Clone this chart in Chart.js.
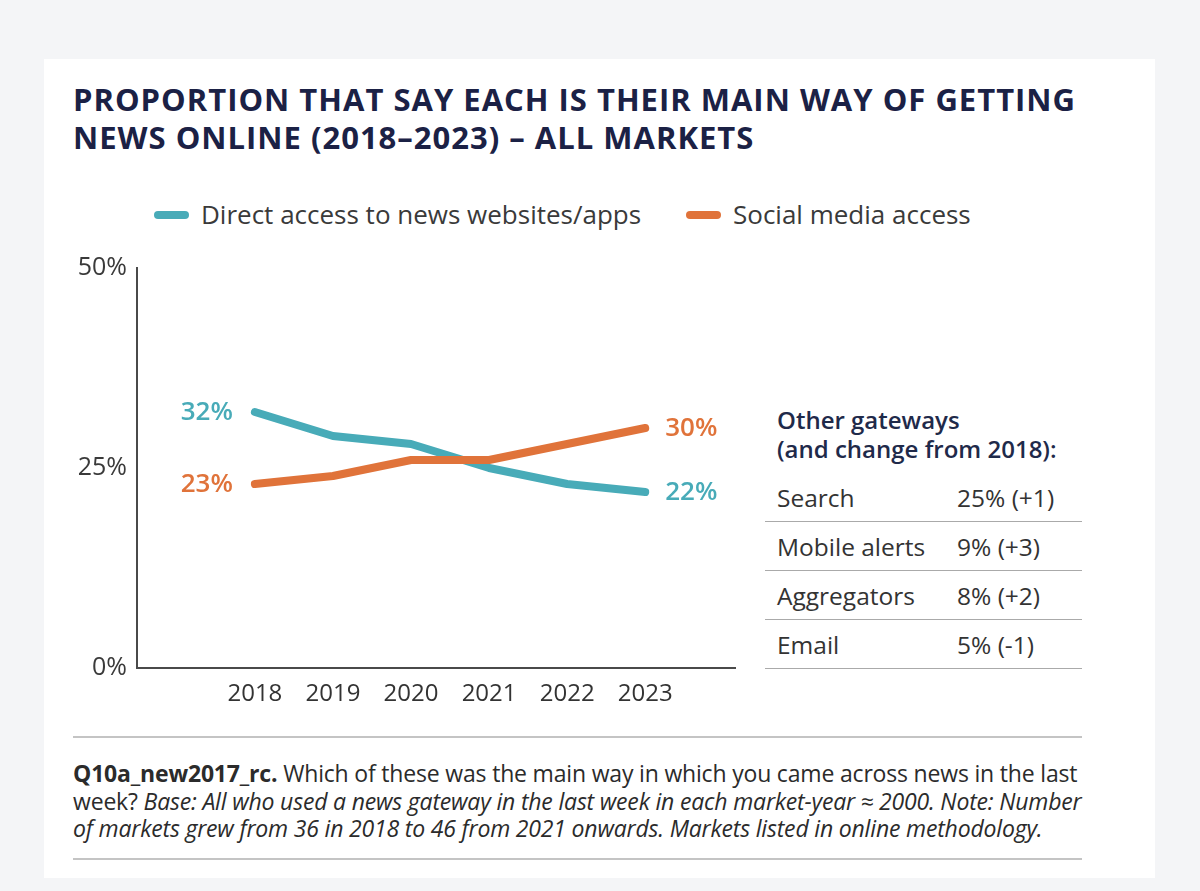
<!DOCTYPE html>
<html>
<head>
<meta charset="utf-8">
<script src="https://cdn.jsdelivr.net/npm/chart.js@4.4.0/dist/chart.umd.min.js"></script>
<style>
  html, body { margin: 0; padding: 0; }
  body { width: 1200px; height: 891px; background: #f4f5f7; position: relative; overflow: hidden; font-family: "Open Sans", "Noto Sans", sans-serif; }
  #card { position: absolute; left: 44px; top: 59px; width: 1111px; height: 819px; background: #fff; }
  #title { position: absolute; left: 73px; top: 80px; margin: 0; font-size: 31px; line-height: 38px; font-weight: 700; color: #1b2145; white-space: nowrap; letter-spacing: 1px; }
  #legend { position: absolute; top: 196px; left: 154px; font-size: 26px; color: #3a3a3a; white-space: nowrap; }
  #legend span.item { position: absolute; top: 0; white-space: nowrap; }
  #legend i { display: inline-block; width: 35px; height: 8px; border-radius: 4px; vertical-align: middle; margin-right: 12px; position: relative; top: -2px; }
  #wrap { position: absolute; left: 60px; top: 251px; width: 700px; height: 464px; }
  #side { position: absolute; left: 765px; top: 405px; width: 317px; }
  #side h3 { margin: 0 0 0 12px; font-size: 24px; line-height: 29px; font-weight: 600; color: #1f2a4a; white-space: nowrap; }
  #side table { border-collapse: collapse; width: 317px; margin-top: 10px; font-size: 24.5px; color: #333; }
  #side td { height: 48px; border-bottom: 1.5px solid #aaa; padding: 0 0 0 12px; white-space: nowrap; }
  #side td.n { width: 168px; }
  #foot { position: absolute; left: 73px; top: 736px; width: 1009px; border-top: 2px solid #c4c4c4; border-bottom: 2px solid #c4c4c4; padding: 22px 0 15px 0; font-size: 23px; line-height: 27.5px; color: #2b2b2b; white-space: nowrap; letter-spacing: -0.18px; }
</style>
</head>
<body>
<div id="card"></div>
<h1 id="title">PROPORTION THAT SAY EACH IS THEIR MAIN WAY OF GETTING<br>NEWS ONLINE (2018–2023) – ALL MARKETS</h1>
<div id="legend"></div>
<div id="wrap"><canvas id="lineChart"></canvas></div>
<div id="side">
  <h3>Other gateways<br>(and change from 2018):</h3>
  <table id="others"></table>
</div>
<div id="foot"><b>Q10a_new2017_rc.</b> Which of these was the main way in which you came across news in the last<br>week? <i>Base: All who used a news gateway in the last week in each market-year ≈ 2000. Note: Number<br>of markets grew from 36 in 2018 to 46 from 2021 onwards. Markets listed in online methodology.</i></div>
<script>
const years = [2018, 2019, 2020, 2021, 2022, 2023];
const directAccess = [32, 29, 28, 25, 23, 22];
const socialMedia = [23, 24, 26, 26, 28, 30];
const seriesNames = ["Direct access to news websites/apps", "Social media access"];
const seriesColors = ["#48abb8", "#e0733a"];
const yTicks = [0, 25, 50];
const otherNames = ["Search", "Mobile alerts", "Aggregators", "Email"];
const otherShares = [25, 9, 8, 5];
const otherChanges = ["+1", "+3", "+2", "-1"];

// legend
let legend = document.getElementById("legend");
let legendX = [0, 532];
seriesNames.forEach((name, i) => {
  let s = document.createElement("span");
  s.className = "item";
  s.style.left = legendX[i] + "px";
  s.innerHTML = `<i style="background:${seriesColors[i]}"></i>${name}`;
  legend.appendChild(s);
});

// side table
let tbl = document.getElementById("others");
for (let i = 0; i < otherNames.length; i++) {
  let tr = document.createElement("tr");
  tr.innerHTML = `<td class="n">${otherNames[i]}</td><td>${otherShares[i]}% (${otherChanges[i]})</td>`;
  tbl.appendChild(tr);
}

// labels at both ends of each line
const endLabels = {
  id: "endLabels",
  afterDatasetsDraw(chart) {
    const ctx = chart.ctx;
    ctx.save();
    ctx.font = "600 26px 'Open Sans', 'Noto Sans', sans-serif";
    ctx.textBaseline = "middle";
    chart.data.datasets.forEach((ds, i) => {
      const pts = chart.getDatasetMeta(i).data;
      const first = pts[0], last = pts[pts.length - 1];
      ctx.fillStyle = ds.borderColor;
      ctx.textAlign = "right";
      ctx.fillText(ds.data[0].y + "%", first.x - 22, first.y + 1);
      ctx.textAlign = "left";
      ctx.fillText(ds.data[ds.data.length - 1].y + "%", last.x + 20, last.y + 1);
    });
    ctx.restore();
  }
};

const toPoints = arr => arr.map((v, i) => ({ x: years[i], y: v }));

var ctxL = document.getElementById("lineChart").getContext("2d");
var myLineChart = new Chart(ctxL, {
  type: "line",
  data: {
    datasets: [
      {
        label: seriesNames[0],
        data: toPoints(directAccess),
        borderColor: seriesColors[0],
        borderWidth: 8,
        borderCapStyle: "round",
        borderJoinStyle: "round",
        pointRadius: 0,
        tension: 0,
        order: 1
      },
      {
        label: seriesNames[1],
        data: toPoints(socialMedia),
        borderColor: seriesColors[1],
        borderWidth: 8,
        borderCapStyle: "round",
        borderJoinStyle: "round",
        pointRadius: 0,
        tension: 0,
        order: 0
      }
    ]
  },
  options: {
    responsive: true,
    maintainAspectRatio: false,
    animation: false,
    layout: { padding: { top: 0, right: 25, left: 0, bottom: 0 } },
    plugins: { legend: { display: false }, tooltip: { enabled: false } },
    scales: {
      x: {
        type: "linear",
        min: 2016.49,
        max: 2024.15,
        afterBuildTicks: s => { s.ticks = years.map(v => ({ value: v })); },
        afterFit: s => { s.height = 47; },
        grid: { display: false },
        border: { display: true, color: "#4a4a4a", width: 2 },
        ticks: {
          padding: 4,
          color: "#333",
          font: { size: 24, family: "'Open Sans', 'Noto Sans', sans-serif" },
          callback: v => String(v)
        }
      },
      y: {
        min: 0,
        max: 50,
        afterBuildTicks: s => { s.ticks = yTicks.map(v => ({ value: v })); },
        afterFit: s => { s.width = 77; },
        grid: { display: false },
        border: { display: true, color: "#4a4a4a", width: 2 },
        ticks: {
          padding: 2,
          color: "#3a3a3a",
          font: { size: 25, family: "'Open Sans', 'Noto Sans', sans-serif" },
          callback: v => v + "%"
        }
      }
    }
  },
  plugins: [endLabels]
});
</script>
</body>
</html>
